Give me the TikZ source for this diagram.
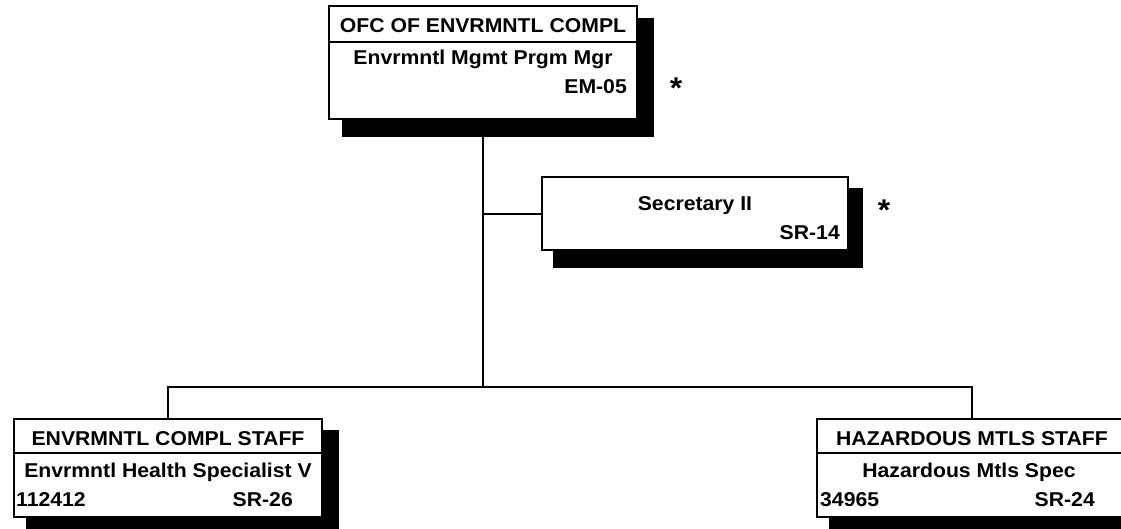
\documentclass[tikz,border=0pt]{standalone}
\usepackage{fontspec}
\setmainfont{Liberation Sans}[FakeStretch=1.06]
\usetikzlibrary{backgrounds}
\begin{document}
\begin{tikzpicture}[x=1pt,y=-1pt,
  box/.style={draw, line width=2pt, fill=white, inner sep=0pt},
  conn/.style={line width=2pt},
  shadowfill/.style={fill=black},
  txt/.style={font=\fontsize{20}{24}\selectfont\bfseries, inner sep=0pt},
  star/.style={font=\fontsize{30}{30}\selectfont\bfseries, inner sep=0pt}]
\useasboundingbox (0,0) rectangle (1121,528);

% boxes
\node[box, minimum width=308pt, minimum height=113pt] (top) at (483,62.5) {};
\node[box, minimum width=306pt, minimum height=73pt] (sec) at (695,213.5) {};
\node[box, minimum width=308pt, minimum height=98pt] (left) at (168,467.5) {};
\node[box, minimum width=310pt, minimum height=98pt] (right) at (972,467.5) {};

% shadows
\begin{scope}[on background layer]
  \fill[shadowfill] ([shift={(14,13)}]top.north west) rectangle ([shift={(16,17)}]top.south east);
  \fill[shadowfill] ([shift={(12,12)}]sec.north west) rectangle ([shift={(14,17)}]sec.south east);
  \fill[shadowfill] ([shift={(13,12)}]left.north west) rectangle ([shift={(16,18)}]left.south east);
  \fill[shadowfill] ([shift={(13,12)}]right.north west) rectangle ([shift={(16,18)}]right.south east);
\end{scope}

% title dividers
\draw[conn] (top.west |- 0,42) -- (top.east |- 0,42);
\draw[conn] (left.west |- 0,453) -- (left.east |- 0,453);
\draw[conn] (right.west |- 0,453) -- (right.east |- 0,453);

% texts
\node[txt, anchor=base] (t1) at (483,32) {OFC OF ENVRMNTL COMPL};
\node[txt, anchor=base] (t2) at (483,64) {Envrmntl Mgmt Prgm Mgr};
\node[txt, anchor=base east] (t3) at (627,93) {EM-05};
\node[star, anchor=center] (s1) at (676,88) {*};

\node[txt, anchor=base] (s2) at (695,210) {Secretary II};
\node[txt, anchor=base east] (s3) at (840,239) {SR-14};
\node[star, anchor=center] (s4) at (884,210) {*};

\node[txt, anchor=base] (l1) at (168,445) {ENVRMNTL COMPL STAFF};
\node[txt, anchor=base] (l2) at (168,477) {Envrmntl Health Specialist V};
\node[txt, anchor=base west] (l3) at (16,506) {112412};
\node[txt, anchor=base east] (l4) at (293,506) {SR-26};

\node[txt, anchor=base] (r1) at (972,445) {HAZARDOUS MTLS STAFF};
\node[txt, anchor=base] (r2) at (969,477) {Hazardous Mtls Spec};
\node[txt, anchor=base west] (r3) at (820,506) {34965};
\node[txt, anchor=base east] (r4) at (1095,506) {SR-24};

% connectors
\coordinate (bus) at (483,387);
\draw[conn] (top.south) -- (bus);
\draw[conn] (top.south |- sec.west) -- (sec.west);
\draw[conn] (bus) -| (left.north);
\draw[conn] (bus) -| (right.north);
\end{tikzpicture}
\end{document}
